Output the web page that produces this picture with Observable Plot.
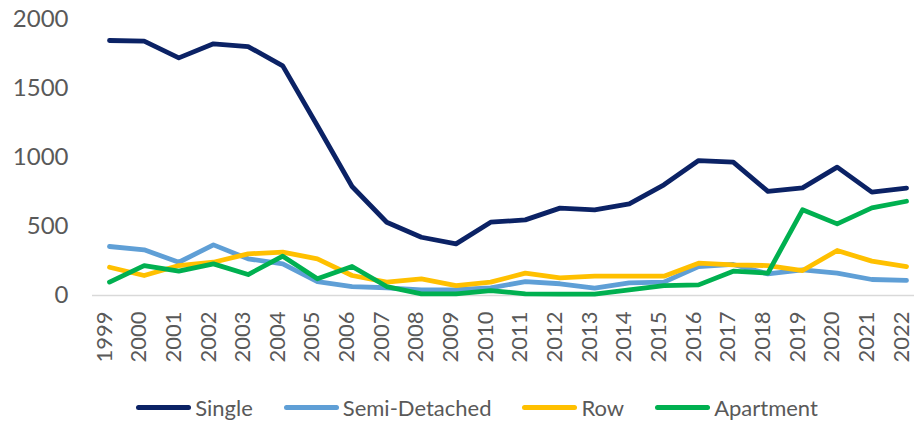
<!DOCTYPE html>
<html>
<head>
<meta charset="utf-8">
<script src="https://cdn.jsdelivr.net/npm/d3@7"></script>
<script src="https://cdn.jsdelivr.net/npm/@observablehq/plot@0.6"></script>
<style>
  html, body { margin: 0; padding: 0; background: #fff; overflow: hidden; }
  #chart svg { display: block; }
  .legend { display: flex; justify-content: center; align-items: center; gap: 31px;
    padding-left: 40px; height: 38px; font-family: Lato, "Open Sans", sans-serif;
    font-size: 22px; color: #595959; }
  .legend .item { display: flex; align-items: center; }
  .legend .sw { width: 55px; height: 5px; border-radius: 3px; margin-right: 4px; }
</style>
</head>
<body>
<div id="chart"></div>
<script>
const years = ["1999","2000","2001","2002","2003","2004","2005","2006","2007","2008","2009","2010","2011","2012","2013","2014","2015","2016","2017","2018","2019","2020","2021","2022"];
const seriesNames = ["Single", "Semi-Detached", "Row", "Apartment"];
const seriesColors = ["#0b2265", "#5f9fd6", "#ffc000", "#00b050"];
const single = [1848, 1843, 1722, 1824, 1804, 1664, 1230, 790, 531, 422, 374, 531, 548, 633, 621, 664, 802, 978, 966, 754, 780, 930, 749, 778];
const semiDetached = [355, 331, 241, 367, 266, 229, 101, 65, 56, 41, 43, 55, 101, 85, 53, 92, 97, 210, 225, 157, 186, 162, 116, 109];
const row = [205, 145, 217, 241, 302, 314, 266, 145, 97, 121, 72, 97, 162, 128, 140, 140, 140, 234, 222, 217, 181, 326, 249, 210];
const apartment = [97, 217, 176, 229, 152, 285, 121, 210, 65, 12, 12, 36, 12, 10, 10, 41, 72, 77, 176, 162, 621, 519, 635, 683];
const yTicks = [0, 500, 1000, 1500, 2000];

const allSeries = [single, semiDetached, row, apartment];
const data = allSeries.flatMap((vals, i) => vals.map((v, j) => ({year: years[j], value: v, series: seriesNames[i]})));

const chart = Plot.plot({
  width: 914,
  height: 388,
  marginLeft: 109,
  marginRight: 8,
  marginTop: 19,
  marginBottom: 93,
  style: {fontFamily: "Lato, 'Open Sans', sans-serif", fontSize: "24px", color: "#595959", background: "#fff"},
  x: {type: "point", domain: years, padding: 0, round: false},
  y: {domain: [0, 2000]},
  color: {domain: seriesNames, range: seriesColors},
  marks: [
    Plot.ruleY([0], {stroke: "#d9d9d9", strokeWidth: 1.5, insetLeft: -17, insetRight: -8}),
    Plot.axisY({ticks: yTicks, tickFormat: d => String(d), tickSize: 0, tickPadding: 41, label: null, fontSize: 24}),
    Plot.axisX({tickSize: 0, tickPadding: 16, tickRotate: -90, label: null, fontSize: 22, dx: -5}),
    Plot.line(data, {x: "year", y: "value", z: "series", stroke: "series", strokeWidth: 4.8, strokeLinejoin: "round", strokeLinecap: "round"})
  ]
});
document.getElementById("chart").appendChild(chart);

const legend = document.createElement("div");
legend.className = "legend";
seriesNames.forEach((name, i) => {
  const item = document.createElement("div");
  item.className = "item";
  const sw = document.createElement("span");
  sw.className = "sw";
  sw.style.background = seriesColors[i];
  const label = document.createElement("span");
  label.textContent = name;
  item.appendChild(sw);
  item.appendChild(label);
  legend.appendChild(item);
});
document.body.appendChild(legend);
</script>
</body>
</html>
